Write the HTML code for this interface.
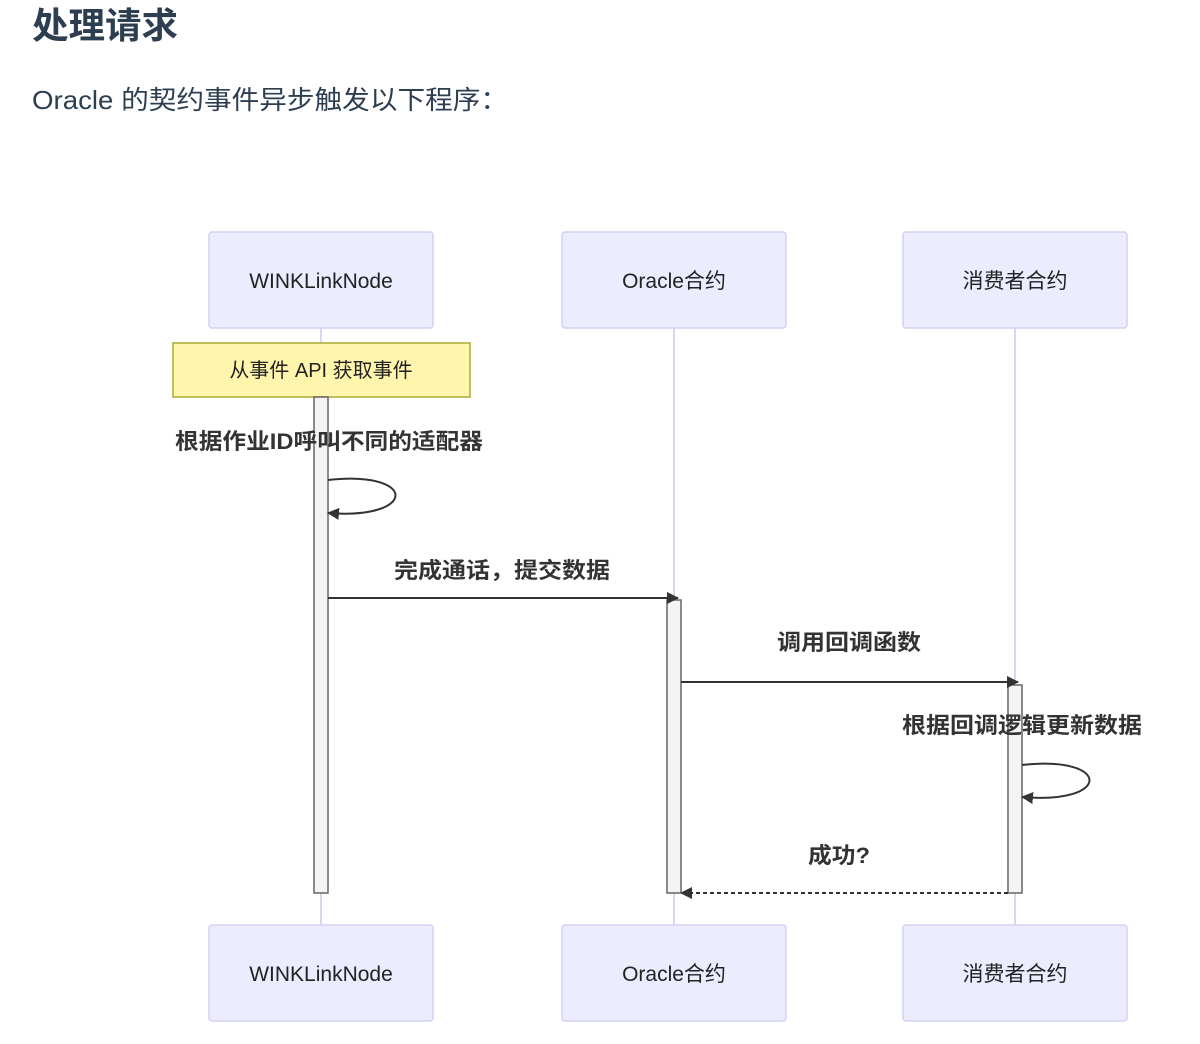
<!DOCTYPE html>
<html><head><meta charset="utf-8"><style>
html,body{margin:0;padding:0;background:#fff;width:1200px;height:1044px;overflow:hidden}
svg text{font-family:"Liberation Sans","Noto Sans CJK SC",sans-serif}
</style></head><body>
<svg width="1200" height="1044" xmlns="http://www.w3.org/2000/svg">
<defs>
<marker id="ah" markerWidth="12" markerHeight="12" refX="11" refY="6" orient="auto" markerUnits="userSpaceOnUse">
<path d="M0,0 L12,6 L0,12 z" fill="#333"/></marker>
</defs>
<text x="32" y="38" font-size="36" font-weight="bold" fill="#2c3e50" textLength="146" lengthAdjust="spacingAndGlyphs">处理请求</text>
<text x="32" y="109" font-size="26" fill="#2c3e50" textLength="476" lengthAdjust="spacingAndGlyphs">Oracle 的契约事件异步触发以下程序：</text>
<g stroke="#e0d2f2" stroke-width="2">
<line x1="321" y1="328" x2="321" y2="925"/>
<line x1="674" y1="328" x2="674" y2="925"/>
<line x1="1015" y1="328" x2="1015" y2="925"/>
</g>
<g fill="#ececff" stroke="#d6d0f4" stroke-width="1.5">
<rect x="209" y="232" width="224" height="96" rx="3"/>
<rect x="562" y="232" width="224" height="96" rx="3"/>
<rect x="903" y="232" width="224" height="96" rx="3"/>
<rect x="209" y="925" width="224" height="96" rx="3"/>
<rect x="562" y="925" width="224" height="96" rx="3"/>
<rect x="903" y="925" width="224" height="96" rx="3"/>
</g>
<g font-size="21" fill="#222" text-anchor="middle">
<text x="321" y="288">WINKLinkNode</text>
<text x="674" y="288">Oracle合约</text>
<text x="1015" y="288">消费者合约</text>
<text x="321" y="981">WINKLinkNode</text>
<text x="674" y="981">Oracle合约</text>
<text x="1015" y="981">消费者合约</text>
</g>
<rect x="173" y="343" width="297" height="54" fill="#fff5ad" stroke="#aaaa33" stroke-width="1.5"/>
<text x="321" y="377" font-size="20" fill="#222" text-anchor="middle">从事件 API 获取事件</text>
<g fill="#f4f4f4" stroke="#666" stroke-width="1.5">
<rect x="314" y="397" width="14" height="496"/>
<rect x="667" y="600" width="14" height="293"/>
<rect x="1008" y="685" width="14" height="208"/>
</g>
<g font-size="22" font-weight="bold" fill="#333" text-anchor="middle">
<text x="329" y="449" textLength="308" lengthAdjust="spacingAndGlyphs">根据作业ID呼叫不同的适配器</text>
<text x="502" y="578" textLength="216" lengthAdjust="spacingAndGlyphs">完成通话，提交数据</text>
<text x="849" y="650" textLength="144" lengthAdjust="spacingAndGlyphs">调用回调函数</text>
<text x="1022" y="733" textLength="240" lengthAdjust="spacingAndGlyphs">根据回调逻辑更新数据</text>
<text x="839" y="863" textLength="62" lengthAdjust="spacingAndGlyphs">成功?</text>
</g>
<g stroke="#333" stroke-width="2" fill="none">
<path d="M328,480 C418,470 418,520 328,513" marker-end="url(#ah)"/>
<line x1="328" y1="598" x2="678" y2="598" marker-end="url(#ah)"/>
<line x1="681" y1="682" x2="1018" y2="682" marker-end="url(#ah)"/>
<path d="M1022,765 C1112,755 1112,805 1022,797" marker-end="url(#ah)"/>
<line x1="1008" y1="893" x2="681" y2="893" stroke-dasharray="4,3" marker-end="url(#ah)"/>
</g>
</svg>
</body></html>
